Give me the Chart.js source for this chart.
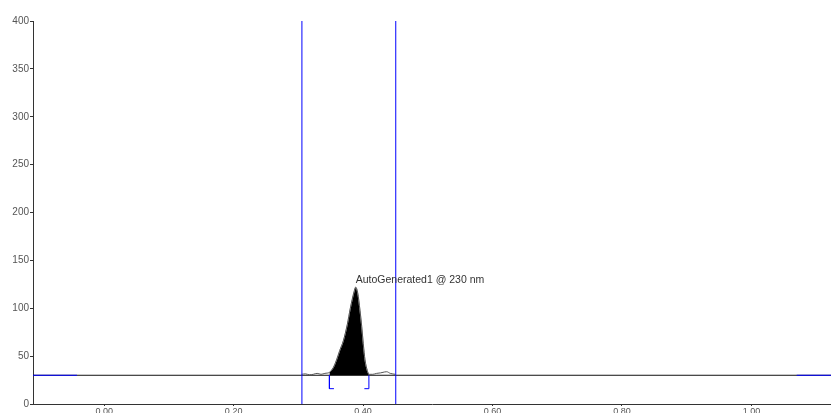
<!DOCTYPE html>
<html>
<head>
<meta charset="utf-8">
<script src="https://cdn.jsdelivr.net/npm/chart.js@4"></script>
<style>
  html, body { margin: 0; padding: 0; background: #fff; }
  #wrap { width: 831px; height: 413px; }
</style>
</head>
<body>
<div id="wrap"><canvas id="chart" width="831" height="413"></canvas></div>
<script>
// chromatogram trace between the two integration markers (min, mAU)
const traceX = [0.305, 0.311, 0.317, 0.323, 0.329, 0.335, 0.341, 0.348, 0.354, 0.359, 0.364, 0.3695, 0.3756, 0.3803, 0.386, 0.3886, 0.3917, 0.3952, 0.3979, 0.4003, 0.403, 0.4065, 0.409, 0.415, 0.421, 0.427, 0.4335, 0.4365, 0.442, 0.45];
const traceY = [31, 31.5, 30.5, 31, 32, 31, 32, 33, 38, 46, 56, 66, 83, 100, 117, 122, 116, 98, 81, 63, 46, 35, 31, 31, 32, 32.5, 33.5, 33.7, 32, 31];

const peakStart = 0.348;
const peakEnd = 0.409;
const baselineValue = 30;
const markerX = [0.3055, 0.4505];
const bracketBottom = 16;
const peakLabel = 'AutoGenerated1 @ 230 nm';

const xTicks = [0, 0.2, 0.4, 0.6, 0.8, 1.0];
const xMin = -0.11, xMax = 1.123;

function pts(xs, ys) {
  return xs.map((x, i) => ({x: x, y: ys[i]}));
}

var trace = pts(traceX, traceY);
var peak = trace.filter(p => p.x >= peakStart && p.x <= peakEnd);

var blue = '#0000ff';
var lineDefaults = {showLine: true, pointRadius: 0, tension: 0, fill: false};

var datasets = [
  Object.assign({}, lineDefaults, {
    label: 'peak', data: peak, borderColor: '#b8b8b8', borderWidth: 1,
    cubicInterpolationMode: 'monotone',
    backgroundColor: '#000', fill: {value: baselineValue}, order: 3
  }),
  Object.assign({}, lineDefaults, {
    label: 'trace', data: trace, borderColor: '#555', borderWidth: 1,
    cubicInterpolationMode: 'monotone', order: 2
  }),
  Object.assign({}, lineDefaults, {
    label: 'baseline', data: [{x: xMin, y: baselineValue}, {x: xMax, y: baselineValue}],
    borderColor: '#111', borderWidth: 1, order: 4
  }),
  Object.assign({}, lineDefaults, {
    label: 'baseline start', data: [{x: xMin, y: baselineValue}, {x: -0.042, y: baselineValue}],
    borderColor: blue, borderWidth: 1, order: 1
  }),
  Object.assign({}, lineDefaults, {
    label: 'baseline end', data: [{x: 1.07, y: baselineValue}, {x: xMax, y: baselineValue}],
    borderColor: blue, borderWidth: 1, order: 1
  }),
  Object.assign({}, lineDefaults, {
    label: 'start bracket', data: [{x: peakStart, y: baselineValue}, {x: peakStart, y: bracketBottom}, {x: peakStart + 0.007, y: bracketBottom}],
    borderColor: blue, borderWidth: 1, order: 1
  }),
  Object.assign({}, lineDefaults, {
    label: 'end bracket', data: [{x: peakEnd - 0.007, y: bracketBottom}, {x: peakEnd, y: bracketBottom}, {x: peakEnd, y: baselineValue}],
    borderColor: blue, borderWidth: 1, order: 1
  })
];

markerX.forEach(function (mx, i) {
  datasets.push(Object.assign({}, lineDefaults, {
    label: 'marker ' + i, data: [{x: mx, y: 0}, {x: mx, y: 400}],
    borderColor: blue, borderWidth: 1, order: 0
  }));
});

// peak label written next to the apex
var peakLabelPlugin = {
  id: 'peakLabel',
  afterDatasetsDraw(chart) {
    var apex = peak.reduce((a, b) => (b.y > a.y ? b : a));
    var ctx = chart.ctx;
    var px = chart.scales.x.getPixelForValue(apex.x);
    var py = chart.scales.y.getPixelForValue(apex.y);
    ctx.save();
    ctx.font = '10.5px "Liberation Sans", Arial, sans-serif';
    ctx.fillStyle = '#333';
    ctx.textAlign = 'left';
    ctx.textBaseline = 'bottom';
    ctx.fillText(peakLabel, px, py - 2);
    ctx.restore();
  }
};

new Chart(document.getElementById('chart'), {
  type: 'scatter',
  data: {datasets: datasets},
  plugins: [peakLabelPlugin],
  options: {
    responsive: false,
    animation: false,
    layout: {padding: {top: 21, right: 0, left: 0, bottom: 0}},
    plugins: {legend: {display: false}, tooltip: {enabled: false}},
    scales: {
      x: {
        type: 'linear', min: xMin, max: xMax,
        afterBuildTicks: function (axis) { axis.ticks = xTicks.map(v => ({value: v})); },
        afterFit: function (axis) { axis.height = 9; },
        border: {color: '#333', width: 1},
        grid: {drawOnChartArea: false, tickLength: 2, color: '#333'},
        ticks: {
          padding: 0, color: '#555', maxRotation: 0,
          font: {family: '"Liberation Sans", Arial, sans-serif', size: 9},
          callback: v => Number(v).toFixed(2)
        }
      },
      y: {
        min: 0, max: 400,
        afterFit: function (axis) { axis.width = 33; },
        border: {color: '#333', width: 1},
        grid: {drawOnChartArea: false, tickLength: 3, color: '#333'},
        ticks: {
          stepSize: 50, padding: 1, color: '#555',
          font: {family: '"Liberation Sans", Arial, sans-serif', size: 10}
        }
      }
    }
  }
});
</script>
</body>
</html>
